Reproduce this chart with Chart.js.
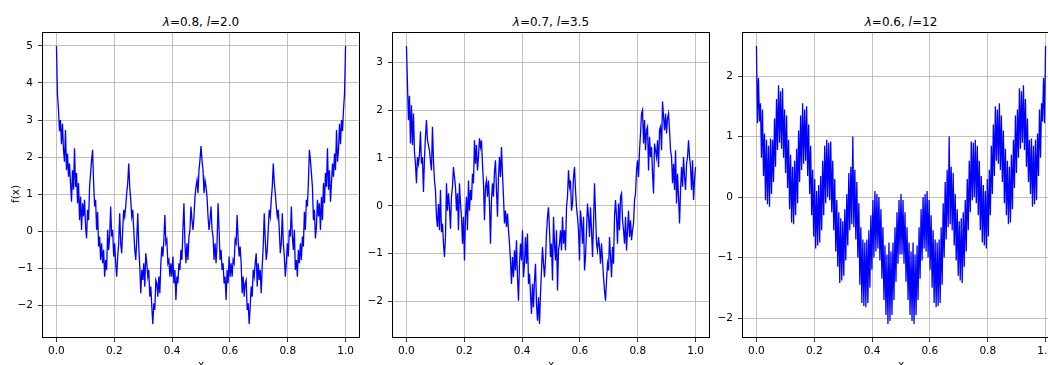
<!DOCTYPE html>
<html lang="en">

<head>
    <meta charset="UTF-8">
    <title>Weierstrass</title>
    <script src="https://cdn.jsdelivr.net/npm/chart.js"></script>
    <style>
        html, body { margin: 0; padding: 0; background: #fff; overflow: hidden; width: 1048px; height: 365px; }
        .painel { position: absolute; top: 28px; }
        .titulo { position: absolute; top: 15px; width: 318px; text-align: center; font: 12px 'DejaVu Sans'; line-height: 14px; color: #000; white-space: nowrap; }
        .xlabel { position: absolute; top: 357px; width: 318px; text-align: center; font: 10.5px 'DejaVu Sans'; line-height: 14px; color: #000; }
        .ylabel { position: absolute; left: 15px; top: 194px; transform: translate(-50%, -50%) rotate(-90deg); font: 10.5px 'DejaVu Sans'; line-height: 14px; color: #000; white-space: nowrap; }
    </style>
</head>

<body>
    <div class="titulo" style="left:42px"><i>λ</i>=0.8, <i>l</i>=2.0</div>
    <div class="titulo" style="left:392px"><i>λ</i>=0.7, <i>l</i>=3.5</div>
    <div class="titulo" style="left:742px"><i>λ</i>=0.6, <i>l</i>=12</div>

    <canvas id="grafico1" class="painel" width="362" height="334" style="left:2px"></canvas>
    <canvas id="grafico2" class="painel" width="362" height="334" style="left:352px"></canvas>
    <canvas id="grafico3" class="painel" width="362" height="334" style="left:702px"></canvas>

    <div class="ylabel">f(x)</div>
    <div class="xlabel" style="left:42px">x</div>
    <div class="xlabel" style="left:392px">x</div>
    <div class="xlabel" style="left:742px">x</div>

    <script>
        // ticks
        const xTicks = [0, 0.2, 0.4, 0.6, 0.8, 1.0];
        const yTicks1 = [-2, -1, 0, 1, 2, 3, 4, 5];
        const yTicks2 = [-2, -1, 0, 1, 2, 3];
        const yTicks3 = [-2, -1, 0, 1, 2];

        // lambda=0.8, l=2.0 (simetrico)
        const serie1 = [
            5.0, 3.7, 3.3, 2.7, 3.0, 2.35, 2.9, 2.2, 1.88, 2.73,
            1.65, 2.1, 1.47, 1.83, 1.3, 0.8, 1.65, 1.12, 2.24, 1.2,
            1.57, 0.76, 1.3, 0.3, 0.93, 0.04, 0.76, 0.4, 0.85, 0.13,
            -0.19, 0.58, 0.3, 1.2, 1.57, 1.92, 2.2, 1.34, 0.67, 0.85,
            0.04, 0.53, -0.41, -0.14, -0.77, -0.32, -0.86, -0.5, -1.22, -0.77,
            -1.04, 0.04, -0.5, -0.14, 0.67, -0.14, 0.04, -0.68, -0.32, -0.86,
            -1.22, -0.68, -0.32, 0.49, -0.32, -0.59, 0.04, 0.58, 0.4, 0.67,
            1.03, 1.3, 1.83, 1.2, 0.85, 0.4, 0.58, 0.04, -0.5, -0.77,
            -0.23, 0.49, -0.41, -0.95, -1.67, -1.04, -1.31, -0.86, -1.49, -0.59,
            -0.86, -1.22, -1.04, -1.76, -1.49, -2.03, -2.5, -1.94, -2.12, -1.31,
            -1.4, -1.76, -1.22, -1.67, -0.86, -0.41, -0.68, -0.23, 0.44, -0.32,
            -0.23, -0.86, -0.77, -1.22, -0.86, -1.22, -0.68, -1.4, -1.04, -1.85,
            -1.22, -1.4, -0.86, -1.04, -0.5, -0.77, 0.04, 0.76, -0.32, -0.86,
            -0.32, -0.77, -0.14, 0.04, 0.67, 0.3, 0.04, 0.4, 0.93, 1.2,
            1.38, 1.03, 1.65, 1.92, 2.3,
            1.92, 1.65, 1.03, 1.38,
            1.2, 0.93, 0.4, 0.04, 0.3, 0.67, 0.04, -0.14, -0.77, -0.32,
            -0.86, -0.32, 0.76, 0.04, -0.77, -0.5, -1.04, -0.86, -1.4, -1.22,
            -1.85, -1.04, -1.4, -0.68, -1.22, -0.86, -1.22, -0.77, -0.86, -0.23,
            -0.32, 0.44, -0.23, -0.68, -0.41, -0.86, -1.67, -1.22, -1.76, -1.4,
            -1.31, -2.12, -1.94, -2.5, -2.03, -1.49, -1.76, -1.04, -1.22, -0.86,
            -0.59, -1.49, -0.86, -1.31, -1.04, -1.67, -0.95, -0.41, 0.49, -0.23,
            -0.77, -0.5, 0.04, 0.58, 0.4, 0.85, 1.2, 1.83, 1.3, 1.03,
            0.67, 0.4, 0.58, 0.04, -0.59, -0.32, 0.49, -0.32, -0.68, -1.22,
            -0.86, -0.32, -0.68, 0.04, -0.14, 0.67, -0.14, -0.5, 0.04, -1.04,
            -0.77, -1.22, -0.5, -0.86, -0.32, -0.77, -0.14, -0.41, 0.53, 0.04,
            0.85, 0.67, 1.34, 2.2, 1.92, 1.57, 1.2, 0.3, 0.58, -0.19,
            0.13, 0.85, 0.4, 0.76, 0.04, 0.93, 0.3, 1.3, 0.76, 1.57,
            1.2, 2.24, 1.12, 1.65, 0.8, 1.3, 1.83, 1.47, 2.1, 1.65,
            2.73, 1.88, 2.2, 2.9, 2.35, 3.0, 2.7, 3.3, 3.7, 5.0
        ];

        // lambda=0.7, l=3.5
        const serie2 = [
            3.34, 2.55, 1.79, 2.3, 1.3, 2.1, 1.27, 1.93,
            1.13, 0.88, 0.47, 1.02, 0.88, 1.06, 1.55, 0.88, 1.02, 0.29,
            0.99, 1.44, 1.79, 1.37, 1.27, 1.16, 0.92, 0.74, 1.65, 0.95,
            0.53, 0.33, -0.23, -0.44, 0.04, -0.51, 0.33, -0.55, -0.37, -0.79,
            -1.07, -0.65, 0.47, -0.1, 0.26, -0.03, -0.48, 0.19, 0.4, 0.81,
            0.6, 0.4, -0.1, 0.26, -0.51, 0.47, 0.05, -0.23, -0.79, -0.23,
            -1.14, -0.23, 0.19, -0.51, 0.53, -0.1, 0.33, 0.12, 0.67, 0.47,
            1.37, 0.88, 1.27, 0.74, 1.02, 1.41, 1.23, 1.37, 0.88, 0.47,
            -0.3, 0.4, 0.53, 0.19, 0.53, 0.05, -0.79, 0.12, 0.47, 0.19,
            0.71, 0.95, 0.33, -0.23, 0.6, 1.02, 0.6, 1.23, 0.67, 0.19,
            -0.37, -0.1, -0.44, -0.16, -0.51, -0.79, -1.14, -1.63, -1.07, -1.49,
            -0.93, -1.35, -0.72, -1.49, -1.98, -1.21, -0.79, -1.14, -0.51, -1.49,
            -1.21, -0.65, -1.21, -0.58, -1.63, -1.42, -1.84, -2.26, -1.63, -2.12,
            -1.56, -1.21, -2.05, -2.4, -1.91, -2.47, -1.84, -1.35, -0.86, -1.21,
            -1.49, -1.14, -0.58, -0.23, -0.03, -0.51, -1.07,
            -0.79, -1.56, -0.23, -0.79, -1.14, -0.51, -1.77, -0.93, -0.79, -0.51,
            -0.93, -0.23, -0.79, -0.51, -0.93, -0.03, 0.19, 0.74, 0.4, 0.53,
            -0.1, 0.05, 0.6, 0.81, 0.33, -0.03, -0.23, -0.51, -1.14, -0.1,
            -0.37, -0.79, -0.23, -1.35, -1.07, -0.51, 0.05, -0.23, -0.65, -0.03,
            -0.51, -1.07, -0.37, 0.47, -0.16, -0.79, -0.93, -0.65, -0.86, -1.21,
            -0.79, -1.14, -1.49, -1.77, -1.98, -1.56, -1.21, -1.35, -0.65, -1.07,
            -1.49, -0.86, -1.21, -0.23, 0.12, -0.23, -0.79, 0.05, -0.51, 0.19,
            0.26, -0.3, -0.51, -0.79, -0.23, -0.93, -0.51, -0.1, -0.65, -0.3,
            -0.72, -0.51, -0.37, 0.12, 0.26, 0.74, 0.95, 0.6, 1.16, 1.51,
            1.93, 2.0, 1.3, 1.79, 1.16, 1.58, 1.65, 0.74, 1.44, 1.02,
            1.23, 0.67, 0.26, 1.3, 1.16, 1.02, 1.37, 0.81, 1.58, 1.65,
            1.16, 2.18, 1.86, 1.58, 1.93, 1.51, 1.83, 1.93, 1.58, 1.16,
            1.02, 0.47, 0.88, 0.33, 1.16, 0.05, 0.67, 0.19, -0.37, 0.33,
            0.81, 0.4, 1.02, 0.6, 0.33, 0.88, 1.02, 1.37, 1.02, 0.81,
            0.33, 0.95, 0.12, 0.53, 0.81
        ];

        // lambda=0.6, l=12 (faixa densa, simetrico)
        const serie3 = [
            2.5, 1.22, 1.97, 1.25, 1.55, 0.65, 1.45, 0.35, 1.05, -0.05,
            0.95, -0.12, 0.85, -0.16, 0.97, 0.05, 0.95, 0.25, 1.3, 0.5,
            1.62, 0.78, 1.85, 0.9, 1.75, 0.8, 1.8, 0.65, 1.45, 0.4,
            1.35, 0.15, 0.95, -0.2, 0.7, -0.42, 0.5, -0.45, 0.6, -0.3,
            0.8, -0.1, 1.1, 0.25, 1.35, 0.45, 1.55, 0.55, 1.45, 0.6,
            1.5, 0.35, 1.2, 0.05, 0.85, -0.3, 0.45, -0.65, 0.3, -0.85,
            0.1, -0.8, 0.2, -0.75, 0.35, -0.55, 0.6, -0.3, 0.85, -0.1,
            0.95, 0.0, 0.9, -0.05, 0.92, -0.25, 0.6, -0.55, 0.3, -0.9,
            -0.05, -1.15, -0.25, -1.42, -0.35, -1.38, -0.4, -1.3, -0.2, -1.05,
            0.05, -0.8, 0.4, -0.55, 0.5, -0.45, 1.0, -0.5, 0.45, -0.7,
            0.25, -1.0, -0.1, -1.45, -0.5, -1.75, -0.7, -1.8, -0.75, -1.82,
            -0.7, -1.75, -0.55, -1.5, -0.3, -1.2, -0.05, -1.0, 0.1, -0.9,
            0.05, -0.85, 0.0, -1.05, -0.2, -1.35, -0.5, -1.7, -0.8, -1.95,
            -0.95, -2.1, -0.75, -2.05, -0.9, -1.95, -0.75, -1.7, -0.5, -1.4,
            -0.25, -1.1, -0.05, -0.95, 0.05,
            -0.95, -0.05, -1.1, -0.25,
            -1.4, -0.5, -1.7, -0.75, -1.95, -0.9, -2.05, -0.75, -2.1, -0.95,
            -1.95, -0.8, -1.7, -0.5, -1.35, -0.2, -1.05, 0.0, -0.85, 0.05,
            -0.9, 0.1, -1.0, -0.05, -1.2, -0.3, -1.5, -0.55, -1.75, -0.7,
            -1.82, -0.75, -1.8, -0.7, -1.75, -0.5, -1.45, -0.1, -1.0, 0.25,
            -0.7, 0.45, -0.5, 1.0, -0.45, 0.5, -0.55, 0.4, -0.8, 0.05,
            -1.05, -0.2, -1.3, -0.4, -1.38, -0.35, -1.42, -0.25, -1.15, -0.05,
            -0.9, 0.3, -0.55, 0.6, -0.25, 0.92, -0.05, 0.9, 0.0, 0.95,
            -0.1, 0.85, -0.3, 0.6, -0.55, 0.35, -0.75, 0.2, -0.8, 0.1,
            -0.85, 0.3, -0.65, 0.45, -0.3, 0.85, 0.05, 1.2, 0.35, 1.5,
            0.6, 1.45, 0.55, 1.55, 0.45, 1.35, 0.25, 1.1, -0.1, 0.8,
            -0.3, 0.6, -0.45, 0.5, -0.42, 0.7, -0.2, 0.95, 0.15, 1.35,
            0.4, 1.45, 0.65, 1.8, 0.8, 1.75, 0.9, 1.85, 0.78, 1.62,
            0.5, 1.3, 0.25, 0.95, 0.05, 0.97, -0.16, 0.85, -0.12, 0.95,
            -0.05, 1.05, 0.35, 1.45, 0.65, 1.55, 1.25, 1.97, 1.22, 2.5
        ];

        const fonte = { family: 'DejaVu Sans', size: 10.5 };

        // pontos igualmente espaçados em [0, 1]
        function pontos(valores) {
            return valores.map((v, i) => ({ x: i / (valores.length - 1), y: v }));
        }

        // moldura preta em volta da area do grafico
        const moldura = {
            id: 'moldura',
            afterDraw(chart) {
                const a = chart.chartArea;
                const ctx = chart.ctx;
                ctx.save();
                ctx.strokeStyle = '#000';
                ctx.lineWidth = 1;
                ctx.strokeRect(Math.round(a.left) + 0.5, Math.round(a.top) + 0.5,
                    Math.round(a.right - a.left) - 1, Math.round(a.bottom - a.top) - 1);
                ctx.restore();
            }
        };

        function desenhar(id, valores, yTicks) {
            const minimo = Math.min(...valores);
            const maximo = Math.max(...valores);
            const margem = (maximo - minimo) * 0.05;

            const grade = {
                color: '#b0b0b0',
                lineWidth: 0.8,
                tickColor: '#000',
                tickLength: 4,
                tickWidth: 0.8
            };

            new Chart(document.getElementById(id), {
                type: 'line',
                data: {
                    datasets: [{
                        data: pontos(valores),
                        borderColor: '#0000ff',
                        borderWidth: 1.3,
                        pointRadius: 0,
                        tension: 0,
                        fill: false
                    }]
                },
                options: {
                    responsive: false,
                    animation: false,
                    events: [],
                    layout: { padding: { top: 4, right: 4, left: 0, bottom: 0 } },
                    plugins: {
                        legend: { display: false },
                        tooltip: { enabled: false }
                    },
                    scales: {
                        x: {
                            type: 'linear',
                            min: -0.05,
                            max: 1.05,
                            afterBuildTicks: s => { s.ticks = xTicks.map(v => ({ value: v })); },
                            afterFit: s => { s.height = 24; s.paddingLeft = 0; s.paddingRight = 0; },
                            ticks: {
                                callback: v => v.toFixed(1),
                                font: fonte,
                                color: '#000',
                                padding: 3,
                                maxRotation: 0,
                                autoSkip: false
                            },
                            grid: grade,
                            border: { display: false }
                        },
                        y: {
                            type: 'linear',
                            min: minimo - margem,
                            max: maximo + margem,
                            afterBuildTicks: s => { s.ticks = yTicks.map(v => ({ value: v })); },
                            afterFit: s => { s.width = 40; s.paddingTop = 0; s.paddingBottom = 0; },
                            ticks: {
                                callback: v => String(v).replace('-', '\u2212'),
                                font: fonte,
                                color: '#000',
                                padding: 5,
                                autoSkip: false
                            },
                            grid: grade,
                            border: { display: false }
                        }
                    }
                },
                plugins: [moldura]
            });
        }

        desenhar('grafico1', serie1, yTicks1);
        desenhar('grafico2', serie2, yTicks2);
        desenhar('grafico3', serie3, yTicks3);
    </script>
</body>

</html>
